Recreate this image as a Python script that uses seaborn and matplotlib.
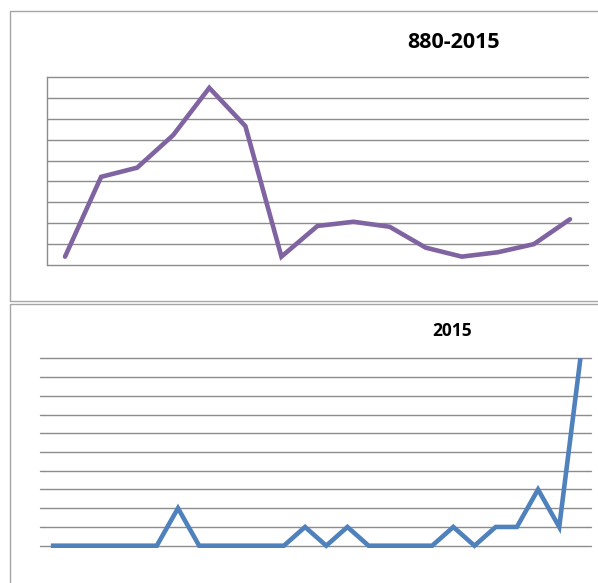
import matplotlib
matplotlib.use("Agg")
import matplotlib.pyplot as plt
from matplotlib.lines import Line2D
import seaborn as sns
import pandas as pd

# Top chart: 880-2015 (15 periods)
top_title = "880-2015"
top_values = [0.40, 4.22, 4.66, 6.22, 8.48, 6.65, 0.40, 1.87, 2.07, 1.83, 0.83, 0.40, 0.61, 1.00, 2.19]

# Bottom chart: 2015 (26 points)
bottom_title = "2015"
bottom_values = [0, 0, 0, 0, 0, 0, 2, 0, 0, 0, 0, 0, 1, 0, 1, 0, 0, 0, 0, 1, 0, 1, 1, 3, 1, 10]

sns.set_theme(style="white")
plt.rcParams['font.family'] = ['Open Sans', 'DejaVu Sans']

W, H = 598, 583
fig = plt.figure(figsize=(W / 100, H / 100), dpi=100)
fig.patch.set_facecolor("white")

grid_c = "#8c8c8c"
border_c = "#a6a6a6"


def border_line(xs, ys):
    fig.lines.append(Line2D([x / W for x in xs], [1 - y / H for y in ys],
                            transform=fig.transFigure, color=border_c,
                            linewidth=1.0))


# panel borders (open to the right, as in the cropped reference)
border_line([W + 5, 9.5, 9.5, W + 5], [11, 11, 301, 301])
border_line([W + 5, 9.5, 9.5], [303.5, 303.5, H + 5])

# top axes
ax1 = fig.add_axes([47 / W, (H - 265) / H, 541 / W, 188 / H])
df1 = pd.DataFrame({"x": range(len(top_values)), "y": top_values})
sns.lineplot(data=df1, x="x", y="y", ax=ax1, color="#8064A2", linewidth=3.3,
             sort=False, solid_capstyle="round", solid_joinstyle="miter")
ax1.set_xlim(-0.5, len(top_values) - 0.5)
ax1.set_ylim(0, 9)
for v in range(0, 10):
    ax1.axhline(v, color=grid_c, linewidth=1.0, zorder=0)
ax1.set_xticks([])
ax1.set_yticks([])
ax1.set_xlabel("")
ax1.set_ylabel("")
for s in ["top", "right", "bottom"]:
    ax1.spines[s].set_visible(False)
ax1.spines["left"].set_color(grid_c)
ax1.spines["left"].set_linewidth(1.0)
ax1.patch.set_alpha(0)
fig.text(453.5 / W, 1 - 42.5 / H, top_title, ha="center", va="center",
         fontsize=15.5, fontweight="bold", color="black")

# bottom axes
ax2 = fig.add_axes([40.3 / W, (H - 545.7) / H, 550.7 / W, 187.4 / H])
df2 = pd.DataFrame({"x": range(len(bottom_values)), "y": bottom_values})
sns.lineplot(data=df2, x="x", y="y", ax=ax2, color="#4F81BD", linewidth=3.3,
             sort=False, solid_capstyle="butt", solid_joinstyle="miter")
ax2.set_xlim(-0.5, len(bottom_values) - 0.5)
ax2.set_ylim(0, 10)
for v in range(0, 11):
    ax2.axhline(v, color=grid_c, linewidth=1.0, zorder=0)
ax2.set_xticks([])
ax2.set_yticks([])
ax2.set_xlabel("")
ax2.set_ylabel("")
for s in ["top", "right", "bottom", "left"]:
    ax2.spines[s].set_visible(False)
ax2.patch.set_alpha(0)
for ax in (ax1, ax2):
    for ln in ax.lines:
        ln.set_clip_on(False)
fig.text(451.7 / W, 1 - 330.5 / H, bottom_title, ha="center", va="center",
         fontsize=12.5, fontweight="bold", color="black")

fig.savefig("out.png", dpi=100, facecolor="white")
